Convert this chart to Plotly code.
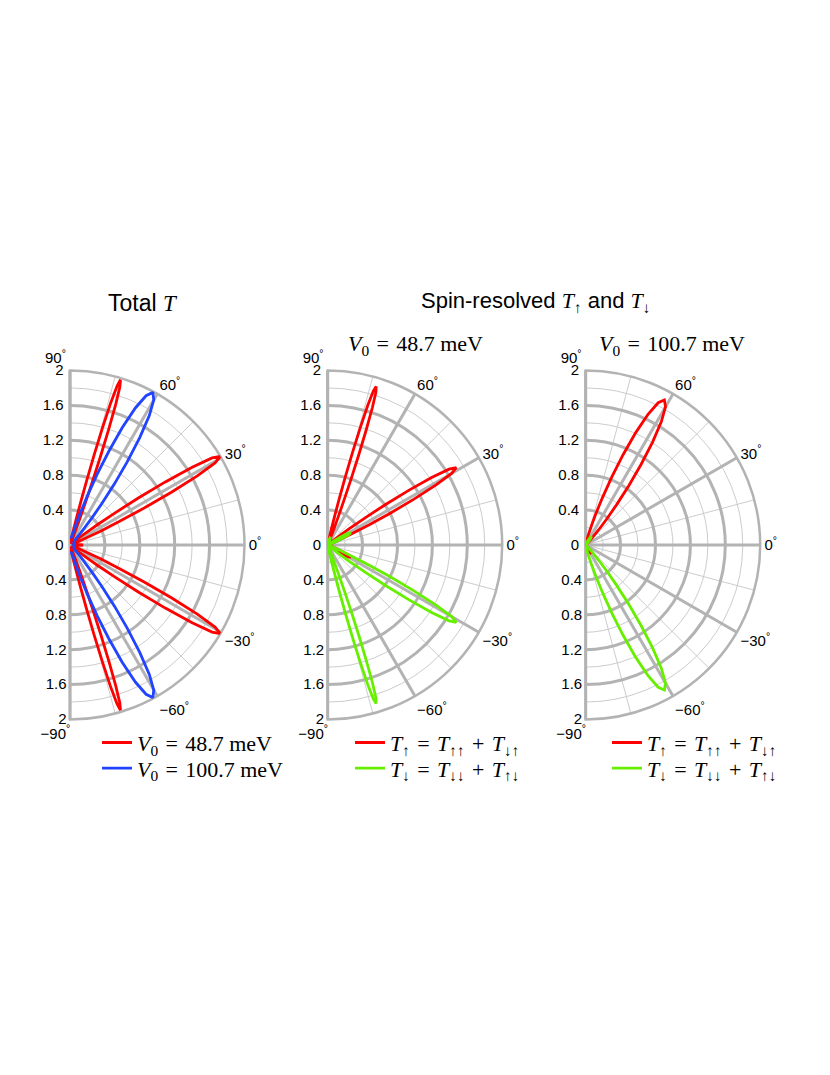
import plotly.graph_objects as go

# ------------------------------------------------------------------
# Data
# ------------------------------------------------------------------
# Panel 1: total transmission T, V0 = 48.7 meV (red)
tot_487_theta = [-90, -85, -80, -78, -77, -76.5, -76, -75.5, -75, -74.5, -74, -73.5, -73,
                 -72.5, -72, -71.5, -71, -70.5, -70, -69.5, -69, -68, -67, -62, -54, -46,
                 -40.5, -38.5, -37.5, -36.5, -35.5, -34.5, -33.5, -32.5, -31.5, -30.5, -29.5,
                 -28.5, -27.5, -26.5, -25.5, -24.5, -23.5, -22.5, -20.5, -16, -12, -7, -3, 0,
                 3, 7, 12, 16, 20.5, 22.5, 23.5, 24.5, 25.5, 26.5, 27.5, 28.5, 29.5, 30.5,
                 31.5, 32.5, 33.5, 34.5, 35.5, 36.5, 37.5, 38.5, 40.5, 46, 54, 62, 67, 68, 69,
                 69.5, 70, 70.5, 71, 71.5, 72, 72.5, 73, 73.5, 74, 74.5, 75, 75.5, 76, 76.5,
                 77, 78, 80, 85, 90]
tot_487_r = [0.08, 0.07, 0.06, 0.07, 0.18, 0.31, 0.50, 0.76, 1.07, 1.40, 1.70, 1.90, 1.98,
             1.90, 1.70, 1.40, 1.07, 0.76, 0.50, 0.31, 0.18, 0.07, 0.04, 0.03, 0.03, 0.03,
             0.05, 0.12, 0.22, 0.39, 0.63, 0.95, 1.31, 1.66, 1.91, 2.00, 1.91,
             1.66, 1.31, 0.95, 0.63, 0.39, 0.22, 0.12, 0.05, 0.04, 0.03, 0.04, 0.10, 0.15,
             0.10, 0.04, 0.03, 0.04, 0.05, 0.12, 0.22, 0.39, 0.63, 0.95, 1.31, 1.66, 1.91, 2.00,
             1.91, 1.66, 1.31, 0.95, 0.63, 0.39, 0.22, 0.12, 0.05, 0.03, 0.03, 0.03, 0.04, 0.07, 0.18,
             0.31, 0.50, 0.76, 1.07, 1.40, 1.70, 1.90, 1.98, 1.90, 1.70, 1.40, 1.07, 0.76, 0.50, 0.31,
             0.18, 0.07, 0.06, 0.07, 0.08]

# Panel 1: total transmission T, V0 = 100.7 meV (blue)
tot_1007_theta = [-90, -82, -77.5, -75.5, -73.5, -72, -70.5, -69, -67.5, -66, -64.5, -63, -61.5,
                  -60, -58.5, -57, -55.5, -54, -52.5, -51, -49.5, -47.5, -45.5, -40, -30, -15, 0,
                  15, 30, 40, 45.5, 47.5, 49.5, 51, 52.5, 54, 55.5, 57, 58.5, 60, 61.5, 63, 64.5,
                  66, 67.5, 69, 70.5, 72, 73.5, 75.5, 77.5, 82, 90]
tot_1007_r = [0.09, 0.09, 0.10, 0.14, 0.25, 0.40, 0.60, 0.87, 1.16, 1.47, 1.74, 1.92, 1.99,
              1.92, 1.74, 1.47, 1.16, 0.87, 0.60, 0.40, 0.25, 0.14, 0.09, 0.06, 0.05, 0.05, 0.04,
              0.05, 0.05, 0.06, 0.09, 0.14, 0.25, 0.40, 0.60, 0.87, 1.16, 1.47, 1.74, 1.92, 1.99, 1.92, 1.74,
              1.47, 1.16, 0.87, 0.60, 0.40, 0.25, 0.14, 0.10, 0.09, 0.09]

# Panel 2: spin-resolved, V0 = 48.7 meV
up_487_theta = [-90, -80, -76, -75, -72, -69, -66, -60, -45, -38, -36, -34, -32, -30, -28, -26,
                -24, -22, -20, -15, 0, 15, 21, 23, 24, 25, 26, 27, 28, 29, 30, 31, 32, 33, 34, 35,
                36, 37, 38, 39, 41, 50, 62, 67, 68, 69, 69.5, 70, 70.5, 71, 71.5, 72, 72.5, 73,
                73.5, 74, 74.5, 75, 75.5, 76, 76.5, 77, 78, 79, 85, 90]
up_487_r = [0.01, 0.02, 0.02, 0.04, 0.10, 0.06, 0.02, 0.01, 0.01, 0.02, 0.03, 0.07, 0.16, 0.26, 0.30, 0.26,
            0.16, 0.07, 0.02, 0.01, 0.01, 0.01, 0.025, 0.09, 0.17, 0.31, 0.53, 0.81, 1.12, 1.42, 1.64, 1.72, 1.64, 1.42, 1.12, 0.81,
            0.53, 0.31, 0.17, 0.09, 0.025, 0.01, 0.01, 0.02, 0.06, 0.21, 0.35, 0.55, 0.81, 1.10, 1.39, 1.66, 1.84, 1.90,
            1.84, 1.66, 1.39, 1.10, 0.81, 0.55, 0.35, 0.21, 0.06, 0.02, 0.01, 0.01]

dn_487_theta = [-90, -85, -79, -78, -77, -76.5, -76, -75.5, -75, -74.5, -74, -73.5, -73, -72.5,
                -72, -71.5, -71, -70.5, -70, -69.5, -69, -68, -67, -62, -50, -41, -39, -38, -37,
                -36, -35, -34, -33, -32, -31, -30, -29, -28, -27, -26, -25, -24, -23, -21, -15, 0,
                15, 20, 22, 24, 26, 28, 30, 32, 34, 36, 38, 45, 60, 66, 69, 72, 75, 76, 80, 90]
dn_487_r = [0.01, 0.01, 0.02, 0.06, 0.21, 0.35, 0.55, 0.81, 1.10, 1.39, 1.66, 1.84, 1.90, 1.84,
            1.66, 1.39, 1.10, 0.81, 0.55, 0.35, 0.21, 0.06, 0.02, 0.01, 0.01, 0.025, 0.09, 0.17, 0.31,
            0.53, 0.81, 1.12, 1.42, 1.64, 1.72, 1.64, 1.42, 1.12, 0.81, 0.53, 0.31, 0.17, 0.09, 0.025, 0.01, 0.01,
            0.02, 0.04, 0.08, 0.17, 0.26, 0.30, 0.26, 0.18, 0.09, 0.04, 0.02, 0.01, 0.01, 0.02, 0.06, 0.10, 0.05, 0.02, 0.02, 0.01]

# Panel 3: spin-resolved, V0 = 100.7 meV
up_1007_theta = [-90, -75, -69, -65, -61, -57, -53, -49, -45, -35, 0, 30, 42.5, 45.5, 47.5, 49.5,
                 51, 52.5, 54, 55.5, 57, 58.5, 60, 61.5, 63, 64.5, 66, 67.5, 69, 70.5, 72, 73.5,
                 75.5, 77.5, 80.5, 90]
up_1007_r = [0.01, 0.01, 0.013, 0.044, 0.094, 0.12, 0.094, 0.044, 0.013, 0.01, 0.01, 0.01, 0.01, 0.046,
             0.11, 0.23, 0.38, 0.58, 0.84, 1.12, 1.41, 1.66, 1.83, 1.89, 1.83, 1.66, 1.41, 1.12, 0.84,
             0.58, 0.38, 0.23, 0.11, 0.046, 0.01, 0.01]

dn_1007_theta = [-90, -80.5, -77.5, -75.5, -73.5, -72, -70.5, -69, -67.5, -66, -64.5, -63, -61.5,
                 -60, -58.5, -57, -55.5, -54, -52.5, -51, -49.5, -47.5, -45.5, -42.5, -30, 0, 35,
                 45, 49, 53, 57, 61, 65, 69, 75, 90]
dn_1007_r = [0.01, 0.01, 0.046, 0.11, 0.23, 0.38, 0.58, 0.84, 1.12, 1.41, 1.66, 1.83, 1.89,
             1.83, 1.66, 1.41, 1.12, 0.84, 0.58, 0.38, 0.23, 0.11, 0.046, 0.01, 0.01, 0.01, 0.01,
             0.013, 0.044, 0.094, 0.12, 0.094, 0.044, 0.013, 0.01, 0.01]

radial_ticks = [0, 0.4, 0.8, 1.2, 1.6, 2]
radial_labels = ["0", "0.4", "0.8", "1.2", "1.6", "2"]
angle_ticks = [-90, -60, -30, 0, 30, 60, 90]
NB = "\u00a0"
angle_labels = ["\u221290<sup>°</sup>" + NB * 7, "\u221260<sup>°</sup>", "\u221230<sup>°</sup>",
                "0<sup>°</sup>", "30<sup>°</sup>", "60<sup>°</sup>", "90<sup>°</sup>" + NB * 7]

EQ = "\u2004=\u2004"
PL = "\u2004+\u2004"
leg_487 = "<i>V</i><sub>0</sub>" + EQ + "48.7 meV"
leg_1007 = "<i>V</i><sub>0</sub>" + EQ + "100.7 meV"
leg_up = "<i>T</i><sub>↑</sub>" + EQ + "<i>T</i><sub>↑↑</sub>" + PL + "<i>T</i><sub>↓↑</sub>"
leg_dn = "<i>T</i><sub>↓</sub>" + EQ + "<i>T</i><sub>↓↓</sub>" + PL + "<i>T</i><sub>↑↓</sub>"

# ------------------------------------------------------------------
# Styling / layout
# ------------------------------------------------------------------
W, H = 830, 1075
R = 174.5
CY = 545.0
CXS = [70.0, 327.7, 585.7]
SANS = "Liberation Sans, Arial, sans-serif"
SERIF = "Liberation Serif, Times New Roman, serif"
GRID = "#b3b3b3"
THIN = "#cccccc"
RED = "#ff0000"
BLUE = "#2244ff"
GREEN = "#66f000"


def dom(cx):
    return dict(x=[cx / W, (cx + R) / W], y=[(H - (CY + R)) / H, (H - (CY - R)) / H])


def thin_polar(cx):
    return dict(
        domain=dom(cx), sector=[-90, 90], bgcolor="rgba(0,0,0,0)",
        radialaxis=dict(range=[0, 2], tickmode="array", tickvals=[0.2, 0.6, 1.0, 1.4, 1.8],
                        showticklabels=False, ticks="", showline=False,
                        gridcolor=THIN, gridwidth=1, layer="below traces"),
        angularaxis=dict(tickmode="array", tickvals=[-75, -45, -15, 15, 45, 75],
                         showticklabels=False, ticks="", showline=False,
                         gridcolor=THIN, gridwidth=1, direction="counterclockwise",
                         rotation=0, layer="below traces"),
    )


def thick_polar(cx):
    return dict(
        domain=dom(cx), sector=[-90, 90], bgcolor="rgba(0,0,0,0)",
        radialaxis=dict(range=[0, 2], angle=90, tickangle=90, side="counterclockwise",
                        tickmode="array", tickvals=radial_ticks, ticktext=radial_labels,
                        ticks="", showline=True, linecolor=GRID, linewidth=2.5,
                        gridcolor=GRID, gridwidth=2.5, layer="below traces",
                        tickfont=dict(family=SANS, size=15, color="black")),
        angularaxis=dict(tickmode="array", tickvals=angle_ticks, ticktext=angle_labels,
                         ticks="", showline=True, linecolor=GRID, linewidth=2.5,
                         gridcolor=GRID, gridwidth=2.5, direction="counterclockwise",
                         rotation=0, layer="below traces",
                         tickfont=dict(family=SANS, size=15, color="black")),
    )


def label_polar(cx):
    return dict(
        domain=dom(cx), sector=[-90, 90], bgcolor="rgba(0,0,0,0)",
        radialaxis=dict(range=[0, 2], angle=-90, tickangle=-90, side="clockwise",
                        tickmode="array", tickvals=radial_ticks[1:], ticktext=radial_labels[1:],
                        ticks="", showline=False, showgrid=False,
                        tickfont=dict(family=SANS, size=15, color="black")),
        angularaxis=dict(showticklabels=False, ticks="", showline=False, showgrid=False,
                         direction="counterclockwise", rotation=0),
    )


fig = go.Figure()

panels = [
    [(tot_487_theta, tot_487_r, RED, leg_487), (tot_1007_theta, tot_1007_r, BLUE, leg_1007)],
    [(up_487_theta, up_487_r, RED, leg_up), (dn_487_theta, dn_487_r, GREEN, leg_dn)],
    [(up_1007_theta, up_1007_r, RED, leg_up), (dn_1007_theta, dn_1007_r, GREEN, leg_dn)],
]
# legend left x (px) of each panel, and item centres (px)
LEG_X = [97, 350, 607]
LEG_Y = [740.7, 766.3]

layout_extra = {}
leg_n = 0
for i, cx in enumerate(CXS):
    ids = [3 * i + 1, 3 * i + 2, 3 * i + 3]
    names = ["polar" if n == 1 else f"polar{n}" for n in ids]
    layout_extra[names[0]] = thin_polar(cx)
    layout_extra[names[1]] = thick_polar(cx)
    layout_extra[names[2]] = label_polar(cx)
    fig.add_trace(go.Scatterpolar(r=[0], theta=[0], mode="lines", subplot=names[0],
                                  showlegend=False, hoverinfo="skip"))
    for j, (th, rr, col, nm) in enumerate(panels[i]):
        leg_n += 1
        lid = "legend" if leg_n == 1 else f"legend{leg_n}"
        layout_extra[lid] = dict(x=LEG_X[i] / W, y=1 - (LEG_Y[j] - 19) / H,
                                 xanchor="left", yanchor="top", bgcolor="rgba(0,0,0,0)",
                                 font=dict(family=SERIF, size=22, color="black"),
                                 itemwidth=30)
        fig.add_trace(go.Scatterpolar(r=rr, theta=th, mode="lines", subplot=names[1],
                                      line=dict(color=col, width=2.8), name=nm,
                                      legend=lid, cliponaxis=False))
    fig.add_trace(go.Scatterpolar(r=[0], theta=[0], mode="lines", subplot=names[2],
                                  showlegend=False, hoverinfo="skip"))


def ann(text, x_px, y_px, family, size):
    return dict(text=text, x=x_px / W, y=1 - y_px / H, xref="paper", yref="paper",
                showarrow=False, xanchor="center", yanchor="middle",
                font=dict(family=family, size=size, color="black"))


SER_SPAN = "<span style=\"font-family:'Liberation Serif'\">"
fig.update_layout(
    width=W, height=H, margin=dict(l=0, r=0, t=0, b=0),
    paper_bgcolor="white", plot_bgcolor="white",
    annotations=[
        ann("Total " + SER_SPAN + "<i>T</i></span>", 143, 303, SANS, 23),
        ann("Spin-resolved " + SER_SPAN + "<i>T</i><sub>↑</sub></span> and "
            + SER_SPAN + "<i>T</i><sub>↓</sub></span>", 535, 302, SANS, 22),
        ann(leg_487, 415, 345, SERIF, 22),
        ann(leg_1007, 672, 345, SERIF, 22),
    ],
    **layout_extra,
)

fig.write_html("out.html", config={"displayModeBar": False},
               post_script="document.body.style.margin='0';")
